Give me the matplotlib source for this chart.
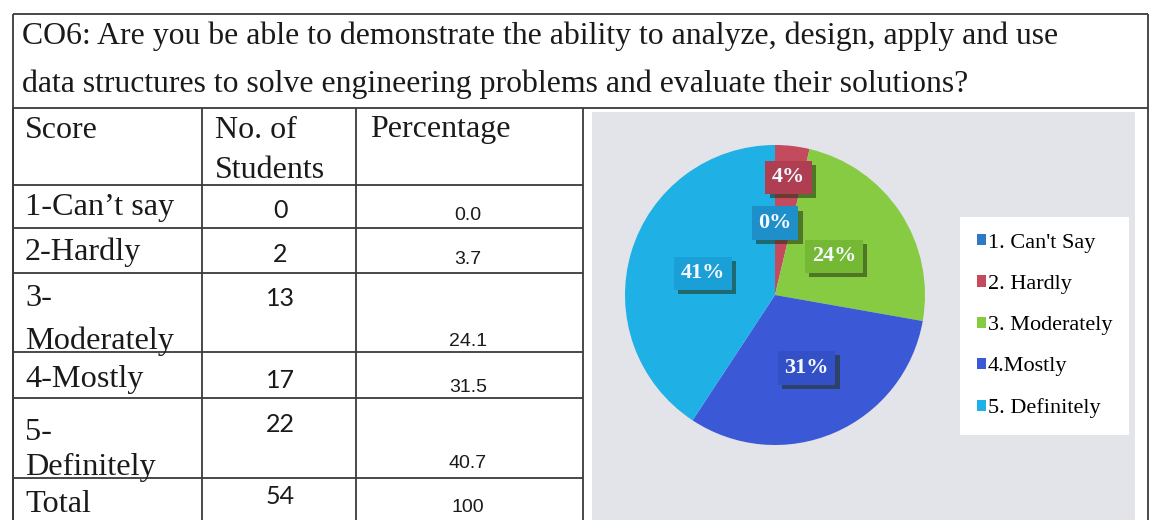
import matplotlib
matplotlib.use("Agg")
import matplotlib.pyplot as plt
import matplotlib.patheffects as pe
from matplotlib.patches import Rectangle
import numpy as np

# data
title_lines = [
    "CO6: Are you be able to demonstrate the ability to analyze, design, apply and use",
    "data structures to solve engineering problems and evaluate their solutions?",
]
header_cols = ["Score", "No. of\nStudents", "Percentage"]
score_labels = ["1-Can\u2019t say", "2-Hardly", "3-\nModerately", "4-Mostly", "5-\nDefinitely", "Total"]
student_counts = [0, 2, 13, 17, 22, 54]
percent_values = ["0.0", "3.7", "24.1", "31.5", "40.7", "100"]
legend_labels = ["1. Can't Say", "2. Hardly", "3. Moderately", "4.Mostly", "5. Definitely"]
pie_counts = [0, 2, 13, 17, 22]

slice_colors = ["#2f78c4", "#c44a5e", "#86cb42", "#3b58d6", "#1fb0e6"]
box_colors = ["#1e8fc8", "#b03e52", "#74b834", "#3450c6", "#1a9fd6"]

W, H = 1155, 520
fig = plt.figure(figsize=(W / 100, H / 100), dpi=100)
fig.patch.set_facecolor("white")
ax = fig.add_axes([0, 0, 1, 1])
ax.set_xlim(0, W)
ax.set_ylim(H, 0)
ax.axis("off")

line_kw = dict(color="#3a3a3a", lw=1.3, solid_capstyle="butt")
serif = "Liberation Serif"
ink = "#1a1a1a"

# outer box and title separator
ax.plot([13, 1148], [14, 14], **line_kw)
ax.plot([13, 13], [14, H], **line_kw)
ax.plot([1148, 1148], [14, H], **line_kw)
ax.plot([13, 1148], [108, 108], **line_kw)

# table grid
col_x = [13, 202, 356, 583]
row_y = [185, 228, 273, 352, 398, 478]
for x in col_x:
    ax.plot([x, x], [108, H], **line_kw)
for y in row_y:
    ax.plot([13, 583], [y, y], **line_kw)

# title
ax.text(22, 36, title_lines[0], family=serif, fontsize=22.9, va="center", ha="left", color=ink)
ax.text(22, 84, title_lines[1], family=serif, fontsize=22.9, va="center", ha="left", color=ink)

# header row, one text per printed line
header_x = [25, 215, 370]
header_y = [[130], [130, 170], [130]]
for i, h in enumerate(header_cols):
    for part, y in zip(h.split("\n"), header_y[i]):
        ax.text(header_x[i], y, part, family=serif, fontsize=23, va="center", color=ink)

# body rows
label_y = [[208], [252], [299, 341], [380], [433, 467], [504]]
count_y = [211, 255, 298, 380, 425, 497]
pct_y = [216, 260, 341, 388, 463, 508]
for i in range(len(score_labels)):
    for part, y in zip(score_labels[i].split("\n"), label_y[i]):
        ax.text(25, y, part, family=serif, fontsize=23.2, va="center", color=ink)
    ax.text(280, count_y[i], str(student_counts[i]), family="Lato", fontsize=18,
            va="center", ha="center", color=ink)
    ax.text(468, pct_y[i], percent_values[i], family="Liberation Sans", fontsize=14,
            va="center", ha="center", color=ink)

# grey chart area
ax.add_patch(Rectangle((592, 112), 543, H - 112, facecolor="#e3e3ea", edgecolor="none"))

# pie chart
cx, cy, r = 775, 295, 150
pax = fig.add_axes([(cx - r) / W, 1 - (cy + r) / H, 2 * r / W, 2 * r / H])
pax.set_facecolor("none")
wedges, _ = pax.pie(pie_counts, colors=slice_colors, startangle=90, counterclock=False,
                    wedgeprops=dict(linewidth=0))
pax.set_xlim(-1, 1)
pax.set_ylim(-1, 1)
pax.set_aspect("equal")
pax.axis("off")

total = sum(pie_counts)
label_dist = [0.48, 0.79, 0.47, 0.53, 0.5]
for i, w in enumerate(wedges):
    ang = np.deg2rad((w.theta1 + w.theta2) / 2)
    d = label_dist[i]
    t = pax.text(d * np.cos(ang), d * np.sin(ang), f"{round(pie_counts[i] / total * 100)}%",
                 ha="center", va="center", family=serif, fontweight="bold", fontsize=16,
                 color="#f4f8ff",
                 bbox=dict(boxstyle="square,pad=0.3", fc=box_colors[i], ec="none"))
    t.get_bbox_patch().set_path_effects([
        pe.withSimplePatchShadow(offset=(3, -3), shadow_rgbFace="#203010", alpha=0.55)])

leg = pax.legend(wedges, legend_labels, loc="upper left",
                 bbox_to_anchor=(960 / W, 1 - 217 / H), bbox_transform=fig.transFigure,
                 frameon=True, fancybox=False, edgecolor="none", facecolor="white",
                 framealpha=1, prop=dict(family=serif, size=16),
                 handlelength=0.4, handleheight=0.4, handletextpad=0.1,
                 labelspacing=1.0, borderpad=0.75, borderaxespad=0)

fig.savefig("out.png", dpi=100)
